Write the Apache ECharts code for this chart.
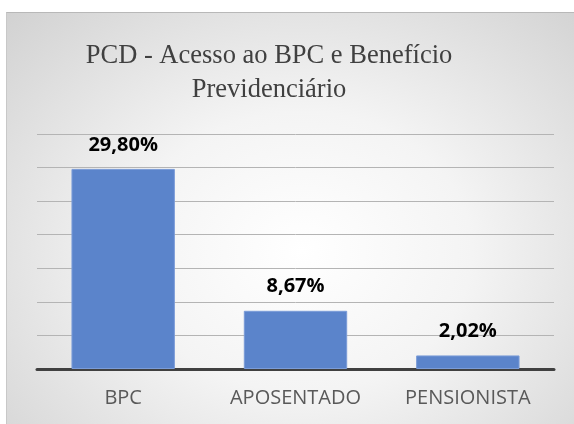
<!DOCTYPE html>
<html>
<head>
<meta charset="utf-8">
<script src="https://cdn.jsdelivr.net/npm/echarts@6/dist/echarts.min.js"></script>
<style>
  html, body { margin: 0; padding: 0; background: #fff; }
  .panel {
    position: absolute;
    left: 6px;
    top: 12px;
    width: 568px;
    height: 412px;
    border-top: 1px solid #b8b8b8;
    border-left: 1px solid #c8c8c8;
    box-sizing: border-box;
    background: radial-gradient(ellipse 75% 85% at 52% 58%, #ffffff 0%, #f4f4f4 40%, #d0d0d0 100%);
  }
  #chart { width: 100%; height: 100%; }
</style>
</head>
<body>
<div class="panel"><div id="chart"></div></div>
<script>
// categorias e valores (%)
const categories = ["BPC", "APOSENTADO", "PENSIONISTA"]
const values = [29.8, 8.67, 2.02]
const labels = ["29,80%", "8,67%", "2,02%"]

const chart = echarts.init(document.getElementById("chart"))
const option = {
  backgroundColor: "transparent",
  title: {
    text: "PCD - Acesso ao BPC e Benefício\nPrevidenciário",
    left: 257,
    textAlign: "center",
    top: 21,
    textStyle: {
      fontFamily: "'Liberation Serif', 'DejaVu Serif', serif",
      fontSize: 26.5,
      fontWeight: "normal",
      color: "#404040",
      lineHeight: 34,
    },
  },
  grid: {
    left: 30,
    right: 20,
    top: 121,
    bottom: 55,
  },
  xAxis: {
    type: "category",
    data: categories,
    axisLine: {
      show: true,
      lineStyle: { color: "#404040", width: 3 },
    },
    axisTick: { show: false },
    axisLabel: {
      color: "#595959",
      fontFamily: "'Open Sans', sans-serif",
      fontSize: 20,
      margin: 19,
    },
  },
  yAxis: {
    type: "value",
    min: 0,
    max: 35,
    interval: 5,
    axisLine: { show: false },
    axisTick: { show: false },
    axisLabel: { show: false },
    splitLine: {
      lineStyle: { color: "#b4b4b4", width: 1 },
    },
  },
  series: [
    {
      type: "bar",
      barWidth: "60%",
      data: values,
      itemStyle: {
        color: "#5b84cb",
        borderColor: "#7b9cd8",
        borderWidth: 1,
      },
      label: {
        show: true,
        position: "top",
        distance: 14,
        formatter: (p) => labels[p.dataIndex],
        fontFamily: "'Open Sans', sans-serif",
        fontWeight: "bold",
        fontSize: 20,
        color: "#000",
      },
    },
  ],
}
chart.setOption(option)
</script>
</body>
</html>
